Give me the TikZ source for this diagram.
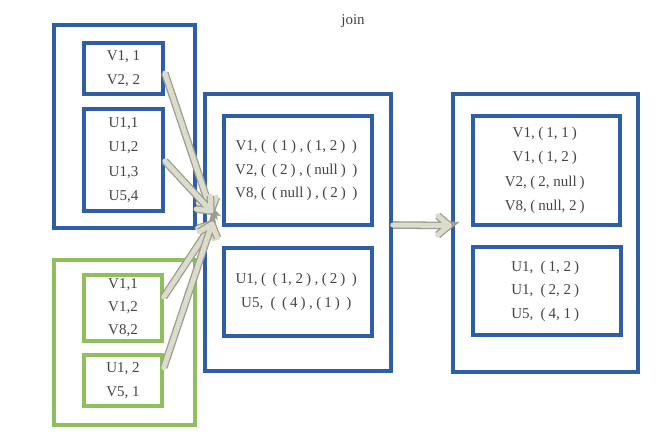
\documentclass[tikz,border=0pt]{standalone}
\usepackage{fontspec}
\setmainfont{Liberation Serif}
\usetikzlibrary{calc}
\definecolor{boxblue}{HTML}{2C5FA6}
\definecolor{boxgreen}{HTML}{8DBF5C}
\definecolor{txt}{HTML}{444444}
\definecolor{arrowfill}{HTML}{DCDCCD}
\definecolor{arrowedge}{HTML}{9C9C90}
% wide-set parentheses
\newcommand\Lp{\kern3.5pt(\kern3pt}
\newcommand\Rp{\kern3pt)\kern3.5pt}
\begin{document}
\begin{tikzpicture}[x=1pt,y=-1pt,
  box/.style={draw, line width=3.6pt, rectangle, inner sep=0pt, text=txt,
    align=center, font=\fontsize{15}{24.5}\selectfont},
  bluebox/.style={box, draw=boxblue},
  greenbox/.style={box, draw=boxgreen},
  fat/.style={line cap=round, line join=round, draw=arrowfill, line width=5pt,
    preaction={draw=arrowedge, line width=7.6pt},
    to path={-- (\tikztotarget)
      -- ($(\tikztotarget)!15pt!40:(\tikztostart)$)
      (\tikztotarget) -- ($(\tikztotarget)!15pt!-40:(\tikztostart)$)}}
]
\useasboundingbox[fill=white] (0,0) rectangle (658,438);

\node[text=txt, font=\fontsize{15}{17}\selectfont] (title) at (353,21) {join};

% first input table
\node[bluebox, minimum width=141pt, minimum height=203pt] (L) at (124.5,126.5) {};
\node[bluebox, minimum width=79pt, minimum height=51pt] (v1) at (123.5,68.5) {V1, 1\\V2, 2};
\node[bluebox, minimum width=79pt, minimum height=102pt] (u1) at (123.5,160) {U1,1\\U1,2\\U1,3\\U5,4};

% second input table
\node[greenbox, minimum width=141pt, minimum height=165pt] (G) at (124.5,342.5) {};
\node[greenbox, minimum width=78pt, minimum height=66pt, font=\fontsize{15}{23}\selectfont] (g1) at (123,308) {V1,1\\V1,2\\V8,2};
\node[greenbox, minimum width=78pt, minimum height=51pt] (g2) at (123,380.5) {U1, 2\\V5, 1};

% grouped result
\node[bluebox, minimum width=186pt, minimum height=277pt] (M) at (298,232.5) {};
\node[bluebox, minimum width=148pt, minimum height=109pt, font=\fontsize{15}{23.5}\selectfont] (m1) at (298,170.5)
  {V1,\Lp\Lp1\Rp,\Lp1, 2\Rp\Rp\\V2,\Lp\Lp2\Rp,\Lp null\Rp\Rp\\V8,\Lp\Lp null\Rp,\Lp2\Rp\Rp};
\node[bluebox, minimum width=148pt, minimum height=88pt] (m2) at (298,292)
  {\raisebox{-5pt}{\parbox{140pt}{\centering U1,\Lp\Lp1, 2\Rp,\Lp2\Rp\Rp\\U5, \Lp\Lp4\Rp,\Lp1\Rp\Rp}}};

% joined output
\node[bluebox, minimum width=185pt, minimum height=278pt] (R) at (545.5,233) {};
\node[bluebox, minimum width=147pt, minimum height=109pt] (r1) at (546.5,170.5)
  {V1,\Lp1, 1\Rp\\V1,\Lp1, 2\Rp\\V2,\Lp2, null\Rp\\V8,\Lp null, 2\Rp};
\node[bluebox, minimum width=148pt, minimum height=88pt, font=\fontsize{15}{23.5}\selectfont] (r2) at (547,291)
  {\raisebox{-5pt}{\parbox{140pt}{\centering U1, \Lp1, 2\Rp\\U1, \Lp2, 2\Rp\\U5, \Lp4, 1\Rp}}};

% arrow end points
\coordinate (a1) at ([yshift=-4.5pt]v1.east);
\coordinate (a2) at ([yshift=-1pt]u1.east);
\coordinate (a3) at ([yshift=11pt]g1.east);
\coordinate (a4) at ([yshift=13pt]g2.east);
\coordinate (hiTip) at (211,211);
\coordinate (loTip) at (212,224);
\coordinate (b1) at ([yshift=7.5pt]M.east);
\coordinate (b2) at ([yshift=7.5pt,xshift=-2pt]R.west);

\draw[fat] (a1) to (hiTip);
\draw[fat] (a2) to (hiTip);
\draw[fat] (a3) to (loTip);
\draw[fat] (a4) to (loTip);
\draw[fat] (b1) to (b2);
\end{tikzpicture}
\end{document}
